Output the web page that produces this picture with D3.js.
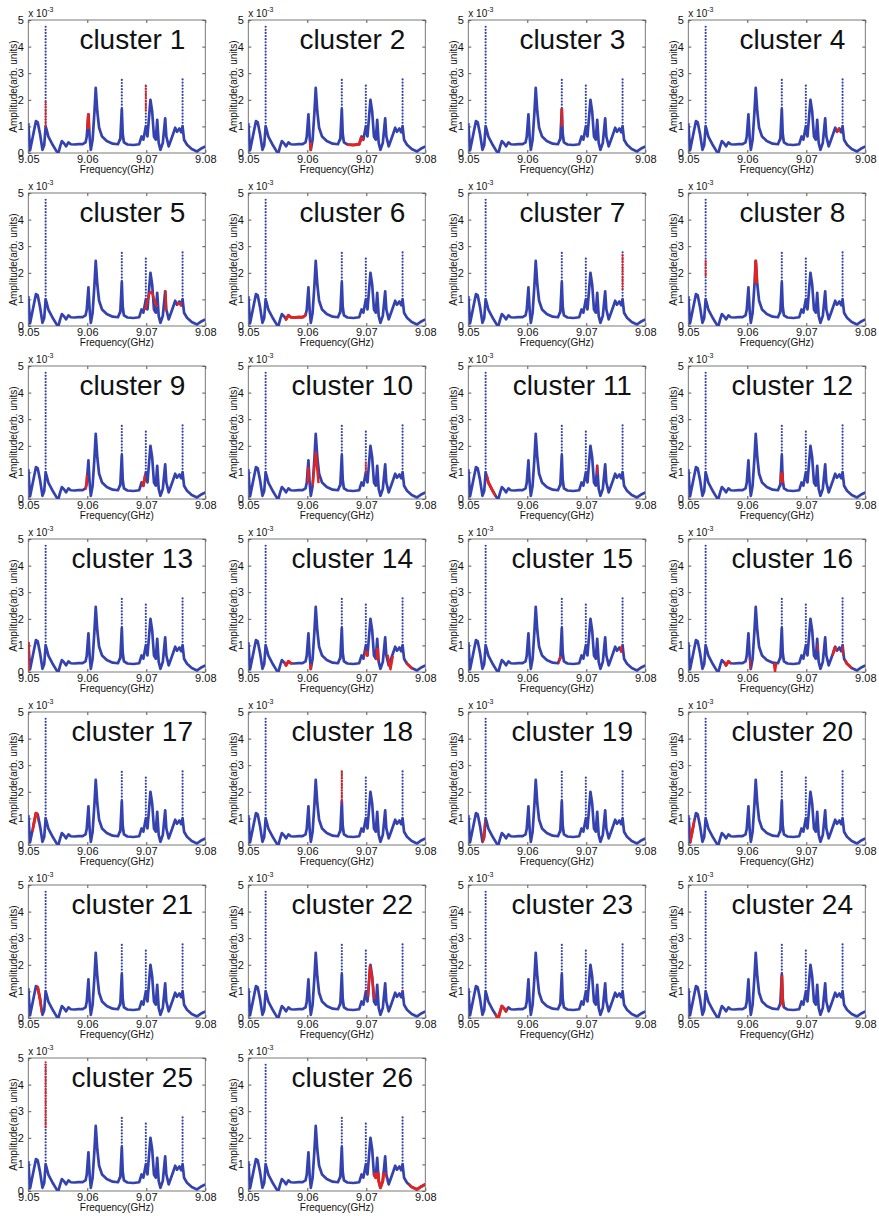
<!DOCTYPE html>
<html><head><meta charset="utf-8">
<script src="https://cdn.jsdelivr.net/npm/d3@7"></script>
<style>body{margin:0;background:#fff} svg{display:block} text{font-family:"Liberation Sans",Arial,sans-serif;fill:#111}</style>
</head><body><svg id="c" width="879" height="1216"></svg>
<script>
// ---------------- data ----------------
const clusterNames = ["cluster 1","cluster 2","cluster 3","cluster 4","cluster 5","cluster 6","cluster 7","cluster 8",
  "cluster 9","cluster 10","cluster 11","cluster 12","cluster 13","cluster 14","cluster 15","cluster 16",
  "cluster 17","cluster 18","cluster 19","cluster 20","cluster 21","cluster 22","cluster 23","cluster 24",
  "cluster 25","cluster 26"];
// base spectrum (frequency in GHz, amplitude in 1e-3 arb. units)
const freqGHz = [9.0500,9.0503,9.0513,9.0516,9.0520,9.0524,9.0527,9.05294,9.0531,9.0534,9.0538,9.0542,9.0548,9.0551,
  9.0554,9.0557,9.0561,9.0564,9.0568,9.0572,9.0578,9.0585,9.0592,9.0597,9.0599,9.06019,9.0604,9.0606,9.0609,9.0612,
  9.06143,9.0617,9.0620,9.0625,9.0633,9.0643,9.0652,9.0656,9.06585,9.0660,9.0662,9.0668,9.0678,9.0688,9.0692,9.0695,
  9.06992,9.0702,9.0707,9.0710,9.0713,9.0716,9.07185,9.0721,9.0724,9.0728,9.0732,9.0734,9.0738,9.0742,9.0746,9.0749,
  9.0752,9.0756,9.0759,9.07615,9.0764,9.0769,9.0777,9.0786,9.0794,9.0800];
const ampE3 = [1.12,0.10,1.20,1.15,0.70,0.12,0.30,1.00,0.88,0.62,0.45,0.28,0.06,0.00,
  0.25,0.45,0.35,0.25,0.40,0.33,0.32,0.33,0.33,0.40,0.60,1.45,0.60,0.12,0.50,1.50,
  2.45,1.55,0.95,0.62,0.45,0.35,0.33,0.55,1.65,0.75,0.40,0.32,0.30,0.33,0.62,0.50,
  1.00,0.62,2.00,1.55,0.62,0.50,1.25,0.38,0.12,0.38,1.30,0.62,0.25,0.50,0.75,0.95,
  0.80,0.92,0.78,1.00,0.50,0.31,0.15,0.06,0.18,0.25];
// secondary trace near the 9.066 GHz line
const traceFreq = [9.0656,9.0659,9.0661,9.0664];
const traceAmp  = [0.45,0.80,0.50,0.38];
// sharp (sparsely sampled) peaks: frequency, lowest and highest amplitude of the dotted column
const peakFreq = [9.05294,9.06585,9.06992,9.07615];
const peakLow  = [0.9,1.0,0.9,0.9];
const peakTop  = [4.85,2.85,2.55,2.80];
const xTicks = [9.05,9.06,9.07,9.08];
const xTickLabels = ["9.05","9.06","9.07","9.08"];
const yTicks = [0,1,2,3,4,5];
// red highlights: [cluster, f0, f1, a0, a1] -> part of the spectrum inside the window drawn red
const redSpans = [
  [1,9.0598,9.0605,0.9,1.5],[2,9.0603,9.0608,0,0.4],[2,9.0668,9.0696,0,0.6],[3,9.0656,9.0661,1.0,1.7],
  [4,9.0751,9.0757,0.4,1.0],[5,9.0731,9.0735,0.55,1.35],[5,9.0752,9.0760,0.5,0.9],[6,9.0562,9.0598,0,0.5],
  [8,9.0611,9.0618,1.6,2.5],[9,9.0596,9.0601,0.3,0.9],[9,9.0692,9.0699,0.3,0.9],[10,9.0599,9.0604,0.6,1.2],
  [11,9.0531,9.0546,0,0.9],[11,9.0717,9.0720,0.9,1.3],[12,9.0655,9.0662,0.6,1.0],[13,9.0500,9.0503,0,1.2],
  [14,9.0561,9.0575,0,0.6],[14,9.0603,9.0608,0,0.3],[14,9.0697,9.0704,0.3,0.8],[14,9.0716,9.0722,0.4,0.9],
  [14,9.0768,9.0778,0,0.4],[15,9.0653,9.0658,0.2,0.6],[15,9.0757,9.0761,0.6,1.0],[16,9.0561,9.0572,0,0.6],
  [16,9.0603,9.0606,0,0.5],[16,9.0718,9.0721,0.8,1.05],[16,9.0744,9.0752,0.6,0.95],[16,9.0760,9.0763,0.6,1.0],
  [16,9.0765,9.0777,0,0.45],[17,9.0506,9.0517,0.5,1.25],[19,9.0524,9.0529,0,0.9],[20,9.0503,9.0511,0,1.0],
  [21,9.0514,9.0523,0.2,1.25],[22,9.0760,9.0763,1.0,1.5],[23,9.0546,9.0566,0,0.6],[24,9.0656,9.0662,0.4,1.6],
  [26,9.0711,9.0734,0,0.7],[26,9.0772,9.0800,0,0.35]];
// red traces off the main curve: [cluster, [[f,a],...]]
const redTraces = [
  [5,[[9.0698,0.6],[9.0705,1.22],[9.0709,1.29],[9.0713,1.04],[9.0718,0.72]]],
  [10,[[9.0609,0.5],[9.06143,1.75],[9.0619,0.6]]],
  [14,[[9.0736,0.65],[9.0741,0.1],[9.0745,0.6]]],
  [16,[[9.0645,0.33],[9.0647,0.02],[9.0649,0.33]]],
  [22,[[9.0703,0.8],[9.0706,1.95],[9.0710,1.5],[9.0714,0.7]]]];
// red dotted peak parts: [cluster, f, a0, a1]
const redDots = [[1,9.05294,1.0,1.95],[1,9.06992,1.6,2.55],[7,9.07615,1.4,2.75],[8,9.05294,1.9,2.45],
  [10,9.06992,1.0,1.4],[18,9.06585,1.6,2.85],[25,9.05294,2.4,4.85]];

// ---------------- layout ----------------
const W = 177, H = 133;
const colLeft = [28.3, 248.3, 468.3, 688.3];
const rowTop = [20, 193, 366, 539, 712, 885, 1058];
const BLUE = "#3342ae", RED = "#e3231f";

const svg = d3.select("#c");
const x = d3.scaleLinear().domain([9.05, 9.08]).range([0, W]);
const y = d3.scaleLinear().domain([0, 5]).range([H, 0]);
const line = d3.line().x(d => x(d[0])).y(d => y(d[1]));
const curve = freqGHz.map((f, i) => [f, ampE3[i]]);
const trace2 = traceFreq.map((f, i) => [f, traceAmp[i]]);

clusterNames.forEach((name, i) => {
  const k = i + 1, c = i % 4, r = Math.floor(i / 4);
  const g = svg.append("g").attr("transform", `translate(${colLeft[c]},${rowTop[r]})`);
  g.append("clipPath").attr("id", "clip" + k).append("rect").attr("width", W).attr("height", H);

  // axes (MATLAB style: inward ticks on all sides)
  const ax = d3.axisBottom(x).tickValues(xTicks).tickFormat((d, j) => xTickLabels[j]).tickSizeInner(-3).tickSizeOuter(0).tickPadding(2.5);
  const ay = d3.axisLeft(y).tickValues(yTicks).tickFormat(d3.format("d")).tickSizeInner(-3).tickSizeOuter(0).tickPadding(4.5);
  const gx = g.append("g").attr("transform", `translate(0,${H})`).call(ax);
  const gy = g.append("g").call(ay);
  const gx2 = g.append("g").call(d3.axisTop(x).tickValues(xTicks).tickFormat("").tickSizeInner(-3).tickSizeOuter(0));
  const gy2 = g.append("g").attr("transform", `translate(${W},0)`).call(d3.axisRight(y).tickValues(yTicks).tickFormat("").tickSizeInner(-3).tickSizeOuter(0));
  [gx, gy, gx2, gy2].forEach(a => { a.select(".domain").remove(); a.selectAll("line").attr("stroke", "#555"); });
  gx.selectAll("text").attr("font-size", 11).attr("font-family", "Liberation Sans").attr("fill", "#111");
  gy.selectAll("text").attr("font-size", 11).attr("font-family", "Liberation Sans").attr("fill", "#111");

  g.append("rect").attr("width", W).attr("height", H).attr("fill", "none").attr("stroke", "#6a6a6a").attr("stroke-width", 0.9);

  // exponent label
  const ex = g.append("text").attr("x", 0).attr("y", -3).attr("font-size", 10);
  ex.append("tspan").text("x 10");
  ex.append("tspan").attr("dy", -5).attr("font-size", 7).text("-3");

  // axis titles
  g.append("text").attr("x", W / 2).attr("y", H + 20).attr("text-anchor", "middle").attr("font-size", 10).text("Frequency(GHz)");
  g.append("text").attr("transform", `translate(-11.5,${H / 2}) rotate(-90)`).attr("text-anchor", "middle").attr("font-size", 10).text("Amplitude(arb. units)");

  // data
  const p = g.append("g").attr("clip-path", `url(#clip${k})`);
  peakFreq.forEach((f, j) => {
    p.append("line").attr("x1", x(f)).attr("x2", x(f)).attr("y1", y(peakLow[j])).attr("y2", y(peakTop[j]))
      .attr("stroke", BLUE).attr("stroke-width", 2.2).attr("stroke-linecap", "round").attr("stroke-dasharray", "0,3.1");
  });
  p.append("path").attr("d", line(curve)).attr("fill", "none").attr("stroke", BLUE).attr("stroke-width", 2.7).attr("stroke-linejoin", "round");
  p.append("path").attr("d", line(trace2)).attr("fill", "none").attr("stroke", BLUE).attr("stroke-width", 1.6).attr("stroke-linejoin", "round");

  redSpans.filter(s => s[0] === k).forEach((s, j) => {
    const id = `rc${k}_${j}`;
    g.append("clipPath").attr("id", id).append("rect")
      .attr("x", x(s[1])).attr("width", x(s[2]) - x(s[1]))
      .attr("y", y(s[4])).attr("height", y(s[3]) - y(s[4]));
    p.append("path").attr("clip-path", `url(#${id})`).attr("d", line(curve)).attr("fill", "none")
      .attr("stroke", RED).attr("stroke-width", 2.9).attr("stroke-linejoin", "round");
  });
  redTraces.filter(s => s[0] === k).forEach(s => {
    p.append("path").attr("d", line(s[1])).attr("fill", "none").attr("stroke", RED).attr("stroke-width", 2.4).attr("stroke-linejoin", "round");
  });
  redDots.filter(s => s[0] === k).forEach(s => {
    p.append("line").attr("x1", x(s[1])).attr("x2", x(s[1])).attr("y1", y(s[2])).attr("y2", y(s[3]))
      .attr("stroke", RED).attr("stroke-width", 2.2).attr("stroke-linecap", "round").attr("stroke-dasharray", "0,2.4");
  });

  // panel title
  g.append("text").attr("x", W / 2 + 15.5).attr("y", 29).attr("text-anchor", "middle").attr("font-size", 28).text(name);
});
</script></body></html>
